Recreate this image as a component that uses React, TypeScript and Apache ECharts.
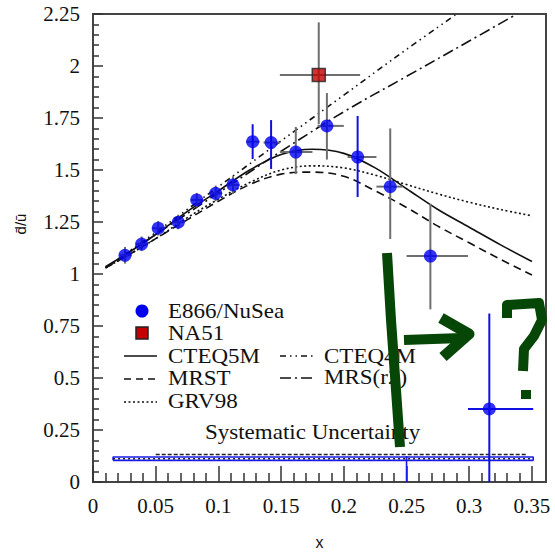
import React, { useEffect, useRef } from 'react';
import * as echarts from 'echarts';

// ---- Data ----
const E866_X = [0.0255, 0.0388, 0.052, 0.068, 0.0827, 0.0978, 0.1116, 0.1273, 0.142, 0.1617, 0.1865, 0.211, 0.237, 0.269, 0.316];
const E866_Y = [1.09, 1.144, 1.22, 1.249, 1.356, 1.388, 1.428, 1.636, 1.632, 1.586, 1.712, 1.5625, 1.42, 1.086, 0.351];
const E866_XLO = [0.021, 0.034, 0.047, 0.063, 0.078, 0.093, 0.107, 0.122, 0.136, 0.149, 0.179, 0.203, 0.226, 0.25, 0.299];
const E866_XHI = [0.031, 0.044, 0.057, 0.073, 0.088, 0.103, 0.117, 0.133, 0.149, 0.175, 0.2, 0.226, 0.247, 0.299, 0.351];
const E866_YLO = [1.05, 1.11, 1.185, 1.215, 1.32, 1.35, 1.385, 1.553, 1.505, 1.48, 1.55, 1.37, 1.168, 0.83, 0.0];
const E866_YHI = [1.13, 1.18, 1.255, 1.285, 1.39, 1.425, 1.47, 1.72, 1.74, 1.707, 1.87, 1.76, 1.70, 1.337, 0.81];
// 0 = grey bars, 1 = blue vertical bar, 2 = both bars blue
const E866_ERR_KIND = [0, 0, 0, 0, 0, 0, 0, 1, 1, 0, 0, 1, 0, 0, 2];

const NA51_X = [0.18];
const NA51_Y = [1.957];
const NA51_XLO = [0.149];
const NA51_XHI = [0.213];
const NA51_YLO = [1.72];
const NA51_YHI = [2.21];

const MODEL_X = [0.01, 0.025, 0.05, 0.075, 0.1, 0.125, 0.15, 0.175, 0.2, 0.225, 0.25, 0.275, 0.3, 0.325, 0.35];
const CTEQ5M_Y = [1.035, 1.09, 1.19, 1.3, 1.4, 1.5, 1.575, 1.6, 1.58, 1.51, 1.41, 1.31, 1.225, 1.14, 1.06];
const MRST_Y = [1.03, 1.08, 1.17, 1.26, 1.35, 1.43, 1.48, 1.49, 1.47, 1.4, 1.32, 1.23, 1.15, 1.07, 0.995];
const GRV98_Y = [1.03, 1.08, 1.17, 1.27, 1.36, 1.44, 1.5, 1.52, 1.51, 1.475, 1.43, 1.385, 1.345, 1.31, 1.28];
const CTEQ4M_X = [0.01, 0.05, 0.1, 0.15, 0.2, 0.25, 0.29];
const CTEQ4M_Y = [1.03, 1.2, 1.42, 1.64, 1.86, 2.08, 2.25];
const MRSR2_X = [0.01, 0.05, 0.1, 0.15, 0.2, 0.25, 0.3, 0.338];
const MRSR2_Y = [1.03, 1.19, 1.39, 1.59, 1.78, 1.95, 2.12, 2.25];

const SYS_X = [0.016, 0.351];
const SYS_LOW = 0.104;
const SYS_HIGH = 0.12;
const SYS_MID = 0.112;
const SYS_TOP_X = [0.05, 0.346];
const SYS_TOP = 0.132;
const BLUE_MARK_X = 0.25;
const BLUE_MARK_Y = [0, 0.125];

const X_TICKS = [0, 0.05, 0.1, 0.15, 0.2, 0.25, 0.3, 0.35];
const X_MINOR_TICKS = [0.01, 0.02, 0.03, 0.04, 0.06, 0.07, 0.08, 0.09, 0.11, 0.12, 0.13, 0.14, 0.16, 0.17, 0.18, 0.19,
  0.21, 0.22, 0.23, 0.24, 0.26, 0.27, 0.28, 0.29, 0.31, 0.32, 0.33, 0.34];
const X_MAX = 0.3612;
const Y_MAX = 2.25;

const zip = (xs: number[], ys: number[]) => xs.map((x, i) => [x, ys[i]]);

const SERIF = "'Liberation Serif', 'Times New Roman', Times, 'DejaVu Serif', serif";
const INK = '#111';
const GREEN = '#064606';

export default function App() {
  const ref = useRef<HTMLDivElement>(null);

  useEffect(() => {
    if (!ref.current) return;
    const chart = echarts.init(ref.current, null, { renderer: 'svg' });

    const errData = E866_X.map((x, i) => [x, E866_Y[i], E866_XLO[i], E866_XHI[i], E866_YLO[i], E866_YHI[i], E866_ERR_KIND[i]]);
    const naErr = NA51_X.map((x, i) => [x, NA51_Y[i], NA51_XLO[i], NA51_XHI[i], NA51_YLO[i], NA51_YHI[i], 0]);

    const renderErr = (params: any, api: any) => {
      const x = api.value(0), y = api.value(1);
      const kind = api.value(6);
      const h1 = api.coord([api.value(2), y]);
      const h2 = api.coord([api.value(3), y]);
      const v1 = api.coord([x, api.value(4)]);
      const v2 = api.coord([x, api.value(5)]);
      const grey = '#6f6f6f';
      const blue = '#1010e0';
      return {
        type: 'group',
        children: [
          { type: 'line', shape: { x1: h1[0], y1: h1[1], x2: h2[0], y2: h2[1] }, style: { stroke: kind === 2 ? blue : grey, lineWidth: 2 } },
          { type: 'line', shape: { x1: v1[0], y1: v1[1], x2: v2[0], y2: v2[1] }, style: { stroke: kind >= 1 ? blue : grey, lineWidth: 2 } },
        ],
      };
    };

    const curve = (name: string, data: number[][], type: any, width = 1.6) => ({
      name, type: 'line', data, showSymbol: false, smooth: 0.35, silent: true,
      lineStyle: { color: INK, width, type }, z: 3,
    });

    const thin = (data: number[][], color: string, type: any, width = 1.2) => ({
      type: 'line', data, showSymbol: false, silent: true, lineStyle: { color, width, type }, z: 2,
    });

    const legendText = (text: string, x: number, y: number) => ({
      type: 'text', x, y, scaleX: 1.15,
      style: { text, fontFamily: SERIF, fontSize: 20, fill: INK, verticalAlign: 'middle' },
      z: 50,
    });
    const legendLine = (x1: number, x2: number, y: number, lineDash: any) => ({
      type: 'line', shape: { x1, y1: y, x2, y2: y }, style: { stroke: INK, lineWidth: 1.5, lineDash }, z: 50,
    });
    const greenLine = (points: number[][], w: number) => ({
      type: 'polyline', shape: { points }, style: { stroke: GREEN, lineWidth: w, fill: 'none', lineJoin: 'round', lineCap: 'butt' }, z: 100,
    });

    chart.setOption({
      animation: false,
      grid: { left: 93, top: 14, right: 9, bottom: 72, show: true, borderColor: '#444', borderWidth: 2, backgroundColor: '#fff' },
      xAxis: [
        {
          type: 'value', min: 0, max: X_MAX, interval: 0.05,
          axisLine: { show: true, lineStyle: { color: '#444', width: 2 } },
          axisTick: { show: true, inside: true, length: 16, lineStyle: { color: '#333', width: 1.5 }, customValues: X_TICKS },
          axisLabel: {
            customValues: X_TICKS, margin: 13, color: INK, fontFamily: SERIF, fontSize: 21,
            formatter: (v: number) => String(Number(v.toFixed(2))),
          },
          splitLine: { show: false },
          name: 'x', nameLocation: 'middle', nameGap: 52,
          nameTextStyle: { fontFamily: "'Liberation Sans', Arial, sans-serif", fontSize: 16, color: INK },
        },
        {
          type: 'value', min: 0, max: X_MAX, position: 'bottom', gridIndex: 0,
          axisLine: { show: false },
          axisTick: { show: true, inside: true, length: 9, lineStyle: { color: '#333', width: 1.5 }, customValues: X_MINOR_TICKS },
          axisLabel: { show: false },
          splitLine: { show: false },
        },
      ],
      yAxis: {
        type: 'value', min: 0, max: Y_MAX, interval: 0.25,
        axisLine: { show: true, lineStyle: { color: '#444', width: 2 } },
        axisTick: { show: true, inside: true, length: 10, lineStyle: { color: '#333', width: 1.5 } },
        minorTick: { show: true, splitNumber: 5, length: 6, lineStyle: { color: '#333', width: 1.5 } },
        axisLabel: { margin: 13, color: INK, fontFamily: SERIF, fontSize: 21 },
        splitLine: { show: false },
      },
      series: [
        // systematic uncertainty band
        thin([[SYS_X[0], SYS_LOW], [SYS_X[1], SYS_LOW], [SYS_X[1], SYS_HIGH], [SYS_X[0], SYS_HIGH], [SYS_X[0], SYS_LOW]], '#1a1ae6', 'solid', 1.6),
        thin(zip(SYS_X, [SYS_MID, SYS_MID]), '#222', [2, 3], 1.4),
        thin(zip(SYS_TOP_X, [SYS_TOP, SYS_TOP]), '#222', [4, 2], 1.6),
        thin([[BLUE_MARK_X, BLUE_MARK_Y[0]], [BLUE_MARK_X, BLUE_MARK_Y[1]]], '#1a1ae6', 'solid', 1.6),
        // model curves
        curve('CTEQ5M', zip(MODEL_X, CTEQ5M_Y), 'solid'),
        curve('MRST', zip(MODEL_X, MRST_Y), [8, 5]),
        curve('GRV98', zip(MODEL_X, GRV98_Y), [2, 2.5]),
        curve('CTEQ4M', zip(CTEQ4M_X, CTEQ4M_Y), [6, 4, 1.5, 4, 1.5, 4]),
        curve('MRS(r2)', zip(MRSR2_X, MRSR2_Y), [11, 4, 2, 4]),
        // error bars
        { type: 'custom', renderItem: renderErr, data: naErr, encode: { x: 0, y: 1 }, clip: true, z: 4, silent: true },
        { type: 'custom', renderItem: renderErr, data: errData, encode: { x: 0, y: 1 }, clip: true, z: 4, silent: true },
        // points
        {
          name: 'NA51', type: 'scatter', data: zip(NA51_X, NA51_Y), symbol: 'rect', symbolSize: 13,
          itemStyle: { color: '#c40000', borderColor: '#222', borderWidth: 1.5 }, z: 6, silent: true,
        },
        {
          name: 'E866/NuSea', type: 'scatter', data: zip(E866_X, E866_Y), symbol: 'circle', symbolSize: 13,
          itemStyle: { color: '#0000f0' }, z: 6, silent: true,
        },
      ],
      graphic: [
        { type: 'text', x: 20, y: 224, rotation: Math.PI / 2,
          style: { text: 'd\u0304/\u016b', fontFamily: "'Liberation Sans', Arial, sans-serif", fontSize: 15, fill: INK, align: 'center', verticalAlign: 'middle' }, z: 50 },
        { type: 'circle', shape: { cx: 142, cy: 311, r: 6.5 }, style: { fill: '#0000f0' }, z: 50 },
        legendText('E866/NuSea', 168, 312),
        { type: 'rect', shape: { x: 136, y: 327, width: 12, height: 12 }, style: { fill: '#c40000', stroke: '#222', lineWidth: 1.5 }, z: 50 },
        legendText('NA51', 168, 334),
        legendLine(124, 157, 356, null),
        legendText('CTEQ5M', 168, 357),
        legendLine(124, 157, 379, [7, 5]),
        legendText('MRST', 168, 379),
        legendLine(124, 157, 402, [2, 2.5]),
        legendText('GRV98', 168, 402),
        legendLine(280, 313, 356, [6, 4, 1.5, 4, 1.5, 4]),
        legendText('CTEQ4M', 324, 357),
        legendLine(280, 313, 378, [11, 4, 2, 4]),
        legendText('MRS(r2)', 324, 378),
        { type: 'text', x: 205, y: 433, scaleX: 1.15,
          style: { text: 'Systematic Uncertainty', fontFamily: SERIF, fontSize: 20, fill: INK, verticalAlign: 'middle' }, z: 50 },
        // hand-drawn green annotation
        greenLine([[387, 253], [391, 320], [396, 390], [400, 447]], 10),
        greenLine([[404, 340], [462, 338]], 10),
        greenLine([[441, 318], [469, 334], [443, 357]], 11),
        greenLine([[507, 318], [507, 305], [539, 303], [542, 320], [534, 336], [524, 349], [523, 371]], 10),
        { type: 'rect', shape: { x: 521, y: 390, width: 10, height: 9 }, style: { fill: GREEN }, z: 100 },
      ],
    });

    return () => chart.dispose();
  }, []);

  return <div ref={ref} style={{ position: 'fixed', left: 0, top: 0, width: 555, height: 555, background: '#fff' }} />;
}
